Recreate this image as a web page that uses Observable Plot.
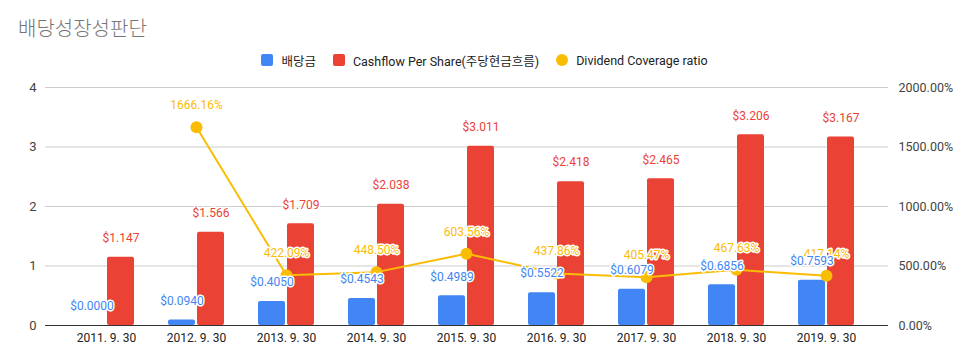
<!DOCTYPE html>
<html>
<head>
<meta charset="utf-8">
<script src="https://cdn.jsdelivr.net/npm/d3@7"></script>
<script src="https://cdn.jsdelivr.net/npm/@observablehq/plot@0.6"></script>
<style>
  body { margin: 0; background: #fff; }
  #wrap { position: relative; width: 969px; height: 364px; font-family: Roboto, "Noto Sans CJK KR", sans-serif; }
  #title { position: absolute; left: 18px; top: 16px; font-size: 20px; line-height: 24px; color: #757575; font-family: "Noto Sans CJK KR", sans-serif; font-weight: 300; }
  #legend { position: absolute; left: 0; width: 969px; top: 51px; height: 18px; display: flex; justify-content: center; align-items: center; font-size: 12.5px; color: #222; }
  .item { display: flex; align-items: center; margin: 0 8.5px; }
  .sw { width: 12px; height: 12px; border-radius: 2px; margin-right: 8px; }
  .sw.c { border-radius: 6px; }
  #chart { position: absolute; left: 0; top: 0; }
</style>
</head>
<body>
<div id="wrap">
  <div id="chart"></div>
  <div id="title">배당성장성판단</div>
  <div id="legend"></div>
</div>
<script>
const dates = ["2011. 9. 30","2012. 9. 30","2013. 9. 30","2014. 9. 30","2015. 9. 30","2016. 9. 30","2017. 9. 30","2018. 9. 30","2019. 9. 30"];
const dividends = [0.0000, 0.0940, 0.4050, 0.4543, 0.4989, 0.5522, 0.6079, 0.6856, 0.7593];
const cashflowPerShare = [1.147, 1.566, 1.709, 2.038, 3.011, 2.418, 2.465, 3.206, 3.167];
const coverageRatio = [null, 1666.16, 422.09, 448.50, 603.56, 437.86, 405.47, 467.63, 417.14];
const leftTicks = [0, 1, 2, 3, 4];
const seriesNames = ["배당금", "Cashflow Per Share(주당현금흐름)", "Dividend Coverage ratio"];
const colors = ["#4285f4", "#ea4335", "#fbbc04"];

const rows = dates.map((d, i) => ({date: d, div: dividends[i], cf: cashflowPerShare[i], cov: coverageRatio[i]}));
const covRows = rows.filter(d => d.cov != null);
const RATIO = 500; // 1 unit on left axis = 500% on right axis

const font = "Roboto, 'Noto Sans CJK KR', sans-serif";

const chart = Plot.plot({
  width: 969,
  height: 364,
  marginTop: 87,
  marginBottom: 39,
  marginLeft: 45,
  marginRight: 81,
  style: {fontFamily: font, fontSize: "12px", color: "#222", background: "transparent"},
  x: {domain: dates, paddingInner: 0.376, paddingOuter: 0.357, label: null},
  y: {domain: [0, 4], label: null},
  marks: [
    Plot.ruleY(leftTicks.filter(t => t > 0), {stroke: "#cccccc", strokeWidth: 1}),
    Plot.barY(rows, {x: "date", y: "div", fill: colors[0], insetRight: 29, rx: 2}),
    Plot.barY(rows, {x: "date", y: "cf", fill: colors[1], insetLeft: 29, rx: 2}),
    Plot.ruleY([0], {stroke: "#333", strokeWidth: 1}),
    Plot.line(covRows, {x: "date", y: d => d.cov / RATIO, stroke: colors[2], strokeWidth: 2}),
    Plot.dot(covRows, {x: "date", y: d => d.cov / RATIO, r: 6, fill: colors[2], stroke: "none"}),
    Plot.text(covRows, {x: "date", y: d => d.cov / RATIO, text: d => d.cov.toFixed(2) + "%", dy: -22, fill: colors[2], stroke: "white", strokeWidth: 3, fontSize: 12}),
    Plot.text(rows, {x: "date", y: "div", text: d => "$" + d.div.toFixed(4), dx: -14.5, dy: -19, fill: colors[0], stroke: "white", strokeWidth: 3, fontSize: 12}),
    Plot.text(rows, {x: "date", y: "cf", text: d => "$" + d.cf.toFixed(3), dx: 14.5, dy: -19, fill: colors[1], stroke: "white", strokeWidth: 3, fontSize: 12}),
    Plot.axisX({tickSize: 0, tickPadding: 8, fontSize: 12, fill: "#222", label: null}),
    Plot.axisY({anchor: "left", ticks: leftTicks, tickFormat: d => String(d), tickSize: 0, tickPadding: 9, fontSize: 13, fill: "#444", label: null}),
    Plot.axisY({anchor: "right", ticks: leftTicks, tickFormat: d => (d * RATIO).toFixed(2) + "%", tickSize: 0, tickPadding: 10, fontSize: 12.5, fill: "#444", label: null})
  ]
});
document.getElementById("chart").appendChild(chart);

const legend = document.getElementById("legend");
seriesNames.forEach((name, i) => {
  const it = document.createElement("div");
  it.className = "item";
  const sw = document.createElement("div");
  sw.className = "sw" + (i === 2 ? " c" : "");
  sw.style.background = colors[i];
  const tx = document.createElement("span");
  tx.textContent = name;
  it.appendChild(sw);
  it.appendChild(tx);
  legend.appendChild(it);
});
</script>
</body>
</html>
